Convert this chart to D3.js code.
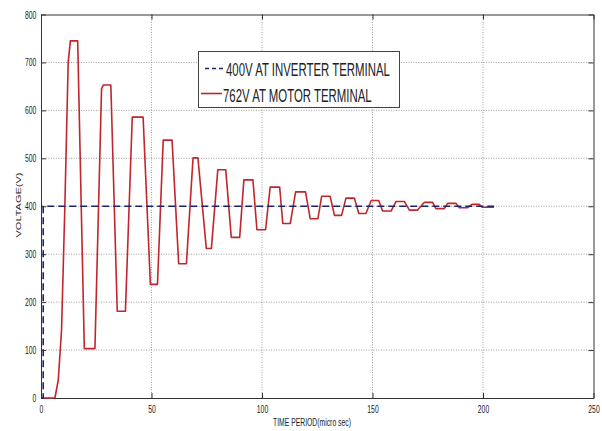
<!DOCTYPE html>
<html>
<head>
<meta charset="utf-8">
<script src="https://cdn.jsdelivr.net/npm/d3@7"></script>
<style>
  body { margin: 0; background: #fff; }
  text { font-family: "Liberation Sans", Arial, sans-serif; fill: #222; }
</style>
</head>
<body>
<div id="chart"></div>
<script>
// data
var xTicks = [0, 50, 100, 150, 200, 250];
var yTicks = [0, 100, 200, 300, 400, 500, 600, 700, 800];

var inverterTime = [0, 1, 1, 205];
var inverterVolts = [0, 0, 400, 400];

var motorTime = [0, 6.3, 7.8, 9.3, 10.8, 12.3, 13.3, 16.6, 19.6, 24.4,
  27.4, 28.2, 31.6, 34.5, 38.2, 41.3, 46.2, 49.5, 52.7, 55.3,
  59.3, 62.3, 65.8, 68.8, 71, 74.8, 77.1, 80, 83.6, 86.1,
  89.9, 91.8, 95.9, 97.7, 101.6, 103.7, 108, 109.4, 112.8, 115.2,
  119.7, 121.8, 125.3, 127, 130.8, 132.8, 136, 138, 141.8, 143.8,
  147, 149.4, 152.8, 154.6, 158.4, 160.7, 164.4, 166.7, 170.4, 173.4,
  177.2, 178.7, 182.5, 184, 187.8, 189.3, 193, 195, 198.3, 199.6, 205];
var motorVolts = [0, 0, 37, 142, 400, 700, 745, 745, 103, 103,
  645, 653, 653, 181, 181, 586, 586, 237, 237, 538,
  538, 280, 280, 501, 501, 312, 312, 476, 476, 335,
  335, 455, 455, 351, 351, 440, 440, 364, 364, 430,
  430, 374, 374, 421, 421, 381, 381, 417, 417, 385,
  385, 412, 412, 390, 390, 410, 410, 392, 392, 408,
  408, 395, 395, 406, 406, 397, 397, 404, 404, 398, 398];

var legendLabels = ["400V AT INVERTER TERMINAL", "762V AT MOTOR TERMINAL"];

var W = 602, H = 431;
var margin = { top: 14.5, right: 8.5, bottom: 33, left: 41 };

var svg = d3.select("#chart")
  .append("svg")
  .attr("width", W)
  .attr("height", H);

var x = d3.scaleLinear().domain([0, 250]).range([margin.left, W - margin.right]);
var y = d3.scaleLinear().domain([0, 800]).range([H - margin.bottom, margin.top]);

// dotted grid
svg.append("g")
  .selectAll("line.gx")
  .data(xTicks.slice(1, -1))
  .enter()
  .append("line")
  .attr("x1", function (d) { return x(d) })
  .attr("x2", function (d) { return x(d) })
  .attr("y1", y(0))
  .attr("y2", y(800))
  .attr("stroke", "#a0a0a0")
  .attr("stroke-dasharray", "1,1.5");

svg.append("g")
  .selectAll("line.gy")
  .data(yTicks.slice(1, -1))
  .enter()
  .append("line")
  .attr("y1", function (d) { return y(d) })
  .attr("y2", function (d) { return y(d) })
  .attr("x1", x(0))
  .attr("x2", x(250))
  .attr("stroke", "#a0a0a0")
  .attr("stroke-dasharray", "1,1.5");

// axes, ticks pointing inwards like matlab
var bottom = svg.append("g")
  .attr("transform", "translate(0," + y(0) + ")")
  .call(d3.axisBottom(x).tickValues(xTicks).tickSizeInner(-5).tickSizeOuter(0).tickPadding(8));
var left = svg.append("g")
  .attr("transform", "translate(" + x(0) + ",0)")
  .call(d3.axisLeft(y).tickValues(yTicks).tickSizeInner(-5).tickSizeOuter(0).tickPadding(7));
svg.append("g")
  .attr("transform", "translate(0," + y(800) + ")")
  .call(d3.axisTop(x).tickValues(xTicks).tickSizeInner(-5).tickSizeOuter(0).tickFormat(""));
svg.append("g")
  .attr("transform", "translate(" + x(250) + ",0)")
  .call(d3.axisRight(y).tickValues(yTicks).tickSizeInner(-5).tickSizeOuter(0).tickFormat(""));

svg.selectAll(".domain").attr("stroke", "#333");
svg.selectAll(".tick line").attr("stroke", "#333");
// narrow tick labels: squeeze sideways around the tick
svg.selectAll(".tick text")
  .attr("font-size", 10)
  .attr("fill", "#222")
  .attr("font-family", "Liberation Sans, Arial, sans-serif")
  .attr("transform", "scale(0.68,1)");
left.selectAll(".tick text").attr("dy", "0.35em");

// the series
var line = d3.line()
  .x(function (d) { return x(d[0]) })
  .y(function (d) { return y(d[1]) });

svg.append("path")
  .datum(d3.zip(motorTime, motorVolts))
  .attr("fill", "none")
  .attr("stroke", "#c0262c")
  .attr("stroke-width", 1.6)
  .attr("stroke-linejoin", "round")
  .attr("d", line);

svg.append("path")
  .datum(d3.zip(inverterTime, inverterVolts))
  .attr("fill", "none")
  .attr("stroke", "#1c2470")
  .attr("stroke-width", 1.6)
  .attr("stroke-dasharray", "7,4")
  .attr("d", line);

// axis titles
svg.append("text")
  .attr("class", "squeeze")
  .attr("x", 312)
  .attr("y", 426)
  .attr("text-anchor", "middle")
  .attr("font-size", 10)
  .text("TIME PERIOD(micro sec)");

svg.append("text")
  .attr("transform", "translate(21,205) scale(0.7,1) rotate(-90)")
  .attr("text-anchor", "middle")
  .attr("font-size", 11)
  .text("VOLTAGE(V)");

// legend
var legend = svg.append("g");
legend.append("rect")
  .attr("x", 198.5)
  .attr("y", 51.5)
  .attr("width", 201)
  .attr("height", 56)
  .attr("fill", "#fff")
  .attr("stroke", "#444");

legend.append("line")
  .attr("x1", 205).attr("x2", 223)
  .attr("y1", 68.5).attr("y2", 68.5)
  .attr("stroke", "#1c2470")
  .attr("stroke-width", 1.6)
  .attr("stroke-dasharray", "4,3");
legend.append("line")
  .attr("x1", 201).attr("x2", 222)
  .attr("y1", 93.5).attr("y2", 93.5)
  .attr("stroke", "#c0262c")
  .attr("stroke-width", 1.6);

legend.selectAll("text")
  .data(legendLabels)
  .enter()
  .append("text")
  .attr("class", "squeeze")
  .attr("x", function (d, i) { return i == 0 ? 226 : 223 })
  .attr("y", function (d, i) { return i == 0 ? 75.5 : 102 })
  .attr("font-size", 19)
  .text(function (d) { return d });

// the original picture is squashed sideways, so squeeze the text too
svg.selectAll("text.squeeze").each(function () {
  var k = this.getAttribute("font-size") > 15 ? 0.6 : 0.68;
  var w = this.getComputedTextLength();
  d3.select(this)
    .attr("textLength", w * k)
    .attr("lengthAdjust", "spacingAndGlyphs");
});
</script>
</body>
</html>
